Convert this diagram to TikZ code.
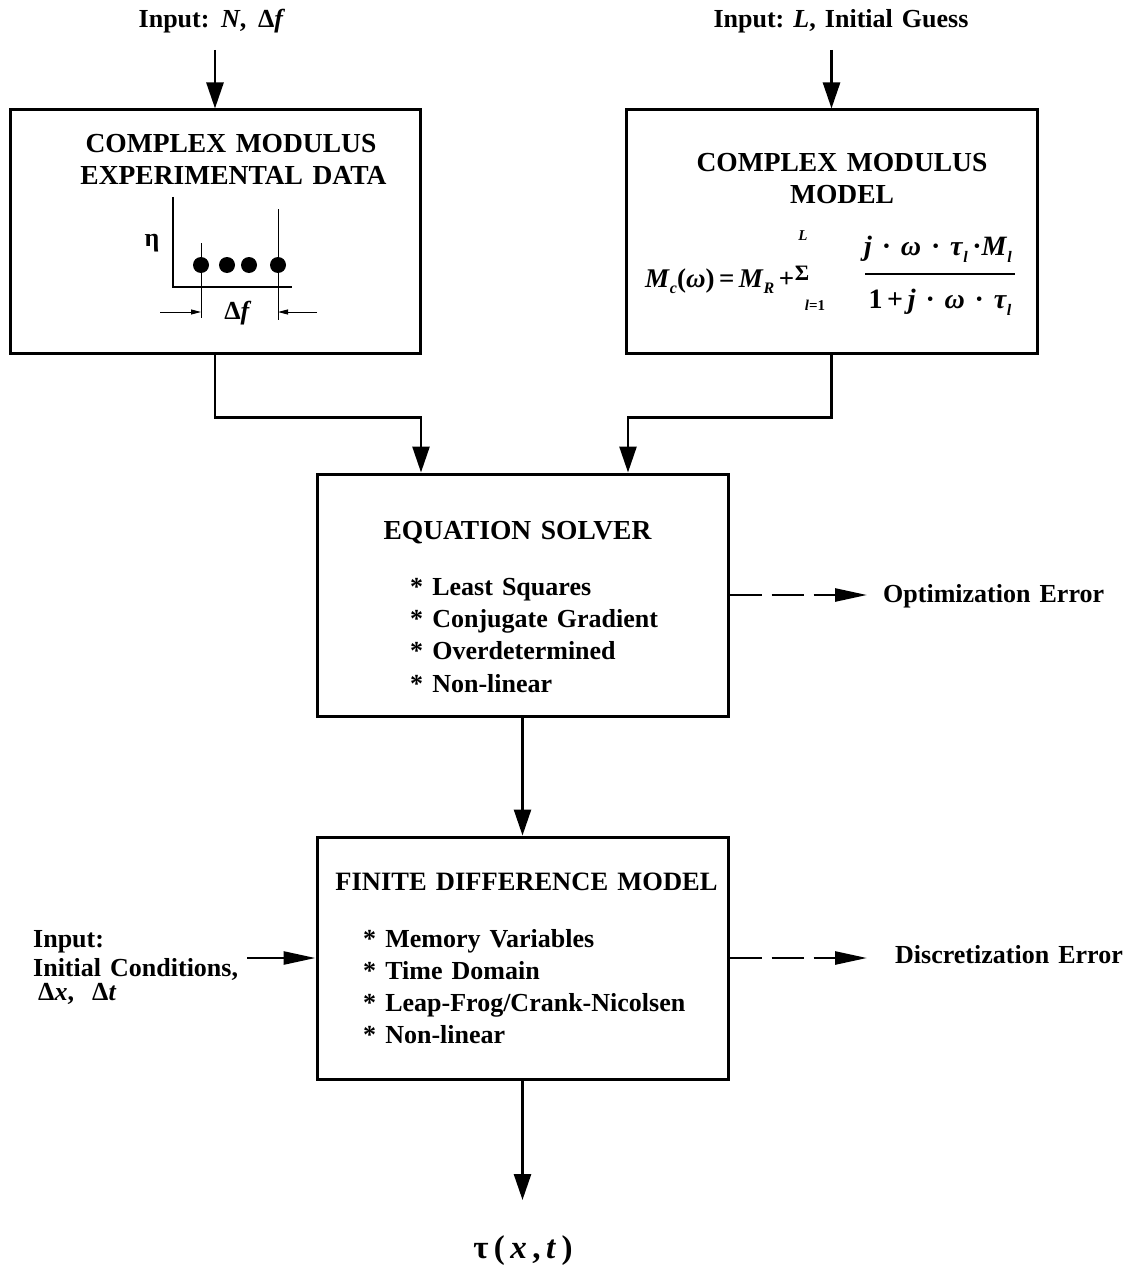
\documentclass[tikz,border=0pt]{standalone}
\usepackage{fontspec}
\setmainfont{Liberation Serif}[WordSpace=1.4]
\usetikzlibrary{arrows.meta}
\newcommand{\mysub}[1]{\raisebox{-0.25em}{\fontsize{16}{16}\selectfont\bfseries\itshape #1}}
\begin{document}
\begin{tikzpicture}[x=1pt,y=-1pt,
  every node/.style={font=\fontsize{26}{32}\selectfont\bfseries, inner sep=0pt},
  box/.style={draw, line width=3pt},
  arr/.style={line width=2.6pt, -{Triangle[length=26pt,width=17pt]}},
  harr/.style={line width=2.6pt, -{Triangle[length=32pt,width=13pt]}},
  dasharr/.style={harr, dash pattern=on 32pt off 10pt},
  sarr/.style={line width=1pt, -{Triangle[length=10pt,width=5pt]}},
  big/.style={font=\fontsize{28}{32}\selectfont\bfseries},
  tiny/.style={font=\fontsize{15}{15}\selectfont\bfseries},
  item/.style={anchor=base west},
  ttl/.style={anchor=base},
  head/.style={anchor=base, font=\fontsize{27.5}{32}\selectfont\bfseries}]
\useasboundingbox (0,0) rectangle (1130,1268);

% boxes
\node[box, minimum width=410pt, minimum height=243pt] (b1) at (215,231.5) {};
\node[box, minimum width=411pt, minimum height=243pt] (b2) at (831.5,231.5) {};
\node[box, minimum width=411pt, minimum height=242pt] (b3) at (522.5,595) {};
\node[box, minimum width=411pt, minimum height=242pt] (b4) at (522.5,958) {};

% top inputs
\node[ttl] (in1) at (212,28) {Input:\hspace{0.45em}\textit{N},\hspace{0.45em}Δ\textit{f}};
\node[ttl] (in2) at (841,28) {Input:\ \textit{L},\ Initial Guess};
\coordinate (t1) at (215,50);
\coordinate (t2) at (831.5,50);
\draw[arr] (t1) -- (b1.north);
\draw[arr] (t2) -- (b2.north);

% box 1 content
\node[head] (b1ta) at (231,153) {COMPLEX MODULUS};
\node[head] (b1tb) at (233.5,185) {EXPERIMENTAL DATA};
\draw[line width=2pt] (173,197) -- (173,287) -- (292,287);
\draw[line width=1pt] (201,243) -- (201,318);
\draw[line width=1pt] (278,209) -- (278,320);
\foreach \px in {201,227,249,278} \fill (\px,265) circle[radius=8pt];
\node (eta) at (152,243) {η};
\node (df) at (238,313) {Δ\textit{f}};
\draw[sarr] (160,312) -- (201,312);
\draw[sarr] (317,312) -- (278,312);

% box 2 content
\node[head] (b2ta) at (842,172) {COMPLEX MODULUS};
\node[head] (b2tb) at (842,204) {MODEL};
\node[font=\fontsize{27}{32}\selectfont\bfseries, anchor=base west] (fl) at (645,287) {\textit{M}\mysub{c}(\textit{ω})\,=\,\textit{M}\mysub{R}\,+};
\node[font=\fontsize{22}{22}\selectfont\bfseries] (sig) at (802,273) {Σ};
\node[tiny, ttl] (sigL) at (803,240) {\textit{L}};
\node[tiny, ttl] (sigl) at (815,310) {\textit{l}=1};
\node[big, ttl] (num) at (938,255) {\textit{j}\ ·\ \textit{ω}\ ·\ \textit{τ}\mysub{l}\,·\textit{M}\mysub{l}};
\node[big, ttl] (den) at (940,308) {1\,+\,\textit{j}\ ·\ \textit{ω}\ ·\ \textit{τ}\mysub{l}};
\draw[line width=2pt] (865,274) -- (1015,274);

% connectors to solver
\draw[arr] (b1.south) -- ++(0,63) -| ([xshift=-101.5pt]b3.north);
\draw[arr] (b2.south) -- ++(0,63) -| ([xshift=105.5pt]b3.north);

% box 3 content
\node[head] (b3t) at (517.5,539) {EQUATION SOLVER};
\node[item] (s1) at (410,595) {*\ Least Squares};
\node[item] (s2) at (410,627) {*\ Conjugate Gradient};
\node[item] (s3) at (410,659) {*\ Overdetermined};
\node[item] (s4) at (410,692) {*\ Non-linear};

\node[anchor=base west] (opt) at (883,602) {Optimization Error};
\draw[dasharr, shorten >=16pt] (b3.east) -- (b3.east -| opt.west);

\draw[arr] (b3.south) -- (b4.north);

% box 4 content
\node[ttl, font=\fontsize{26.5}{32}\selectfont\bfseries] (b4t) at (526.5,890) {FINITE DIFFERENCE MODEL};
\node[item] (f1) at (363,947) {*\ Memory Variables};
\node[item] (f2) at (363,979) {*\ Time Domain};
\node[item] (f3) at (363,1011) {*\ Leap-Frog/Crank-Nicolsen};
\node[item] (f4) at (363,1043) {*\ Non-linear};

\node[anchor=base west] (disc) at (895,963) {Discretization Error};
\draw[dasharr, shorten >=28pt] (b4.east) -- (b4.east -| disc.west);

% left input
\node[item] (l1) at (33,947) {Input:};
\node[item] (l2) at (33,976) {Initial Conditions,};
\node[item] (l3) at (38,1000) {Δ\textit{x},\ \ Δ\textit{t}};
\coordinate (lin) at (247,958);
\draw[harr] (lin) -- (b4.west);

% output
\coordinate (otip) at (522.5,1200);
\draw[arr] (b4.south) -- (otip);
\node[ttl, font=\fontsize{33}{36}\selectfont\bfseries] (out) at (523,1258) {τ\,(\,\textit{x}\,,\,\textit{t}\,)};
\end{tikzpicture}
\end{document}
